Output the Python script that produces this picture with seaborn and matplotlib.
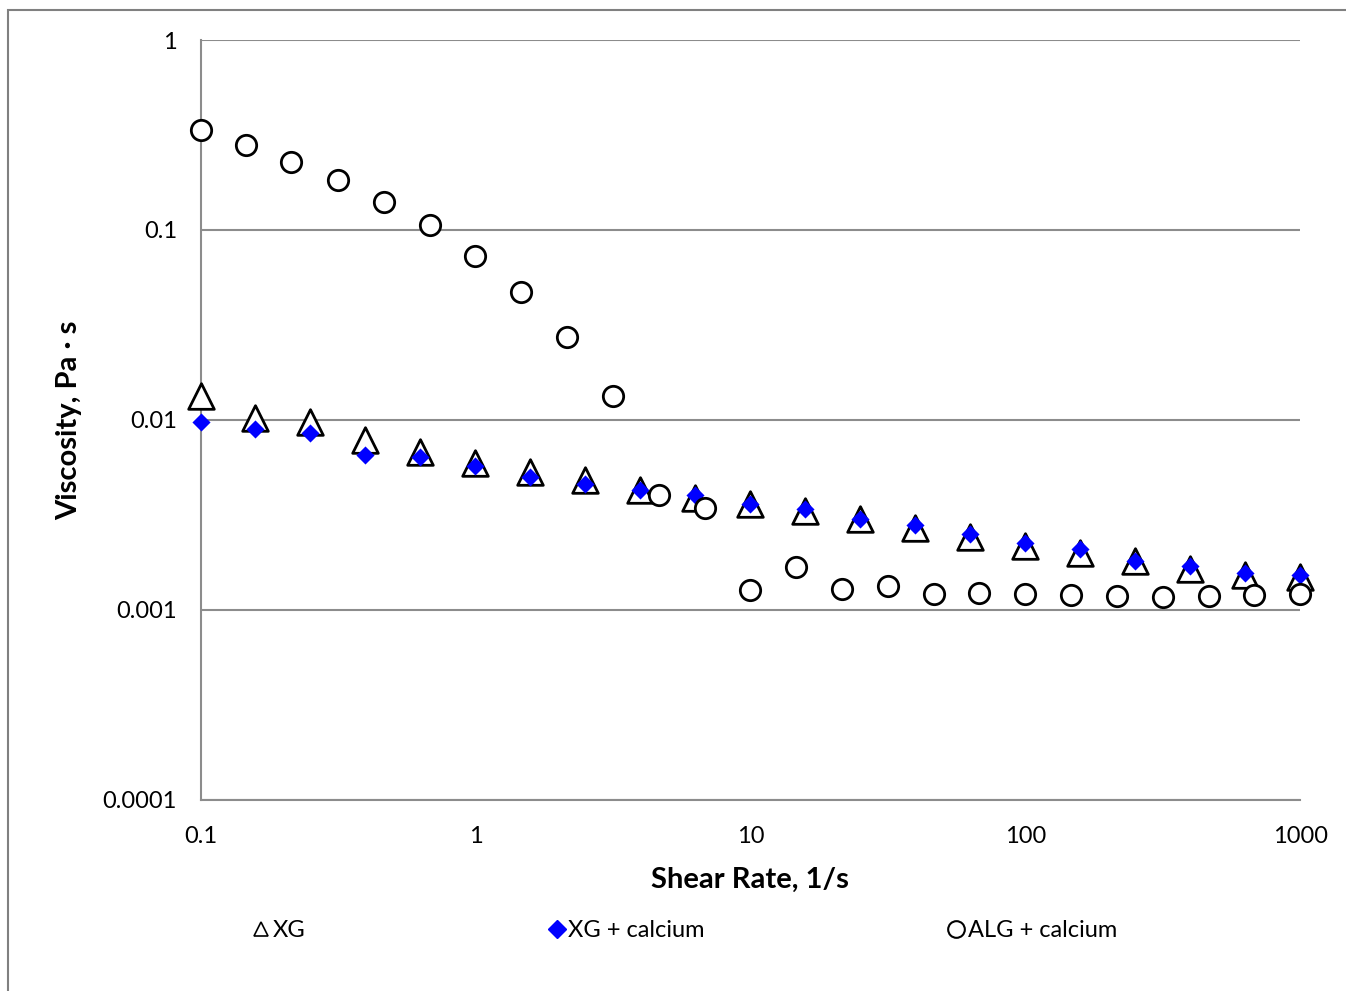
import matplotlib
matplotlib.use('Agg')
import matplotlib.pyplot as plt
import matplotlib.patches as mpatches
from matplotlib.lines import Line2D
import numpy as np
import pandas as pd
import seaborn as sns

# Shear rates (1/s)
rateXG = [0.1, 0.158, 0.251, 0.398, 0.631, 1, 1.58, 2.51, 3.98, 6.31, 10,
          15.8, 25.1, 39.8, 63.1, 100, 158, 251, 398, 631, 1000]
rateALG = [0.1, 0.146, 0.214, 0.315, 0.464, 0.681, 1, 1.46, 2.15, 3.16, 4.64, 6.81,
           10, 14.7, 21.5, 31.6, 46.4, 68.1, 100, 147, 215, 316, 464, 681, 1000]

# Viscosity (Pa s)
viscXG = [0.0134, 0.0102, 0.0097, 0.0078, 0.0068, 0.0059, 0.0053, 0.0048, 0.0043, 0.0039, 0.0036,
          0.0033, 0.0030, 0.0027, 0.00242, 0.00218, 0.00198, 0.00181, 0.00164, 0.00153, 0.00149]
viscXGCa = [0.0098, 0.0090, 0.0085, 0.0065, 0.0064, 0.0057, 0.0050, 0.0046, 0.0043, 0.0040, 0.0036,
            0.0034, 0.0030, 0.0028, 0.0025, 0.00225, 0.0021, 0.0018, 0.0017, 0.00156, 0.00152]
viscALGCa = [0.336, 0.28, 0.228, 0.183, 0.140, 0.106, 0.073, 0.047, 0.0273, 0.0134, 0.00403, 0.00344,
             0.00127, 0.00168, 0.00129, 0.00134, 0.00121, 0.00123, 0.00121, 0.00119, 0.00118,
             0.00117, 0.00118, 0.00119, 0.00121]

yTicks = [0.0001, 0.001, 0.01, 0.1, 1]
yTickLabels = ['0.0001', '0.001', '0.01', '0.1', '1']
xTicks = [0.1, 1, 10, 100, 1000]
xTickLabels = ['0.1', '1', '10', '100', '1000']

sns.set_style('white')
plt.rcParams['font.family'] = ['Lato', 'DejaVu Sans']
plt.rcParams['text.color'] = 'black'
plt.rcParams['axes.labelcolor'] = 'black'

fig = plt.figure(figsize=(13.46, 9.91), dpi=100)
ax = fig.add_axes([0.149, 0.193, 0.817, 0.7666])

xgDf = pd.DataFrame({'rate': rateXG, 'xg': viscXG, 'xgca': viscXGCa})
algDf = pd.DataFrame({'rate': rateALG, 'alg': viscALGCa})

sns.scatterplot(data=xgDf, x='rate', y='xg', marker='^', s=340, facecolor='white',
                edgecolor='black', linewidth=2, ax=ax, zorder=3)
sns.scatterplot(data=xgDf, x='rate', y='xgca', marker='D', s=85, color='#0000ff',
                edgecolor='#0000ff', linewidth=0, ax=ax, zorder=4)
sns.scatterplot(data=algDf, x='rate', y='alg', marker='o', s=215, facecolor='white',
                edgecolor='black', linewidth=2, ax=ax, zorder=5)

ax.set_xscale('log')
ax.set_yscale('log')
ax.set_xlim(0.1, 1000)
ax.set_ylim(0.0001, 1)
ax.set_xticks(xTicks)
ax.set_xticklabels(xTickLabels)
ax.set_yticks(yTicks)
ax.set_yticklabels(yTickLabels)
ax.minorticks_off()

ax.yaxis.grid(True, color='#8c8c8c', linewidth=1.5)
ax.xaxis.grid(False)
for side in ['top', 'right']:
    ax.spines[side].set_visible(False)
for side in ['left', 'bottom']:
    ax.spines[side].set_color('#8c8c8c')
    ax.spines[side].set_linewidth(1.5)
ax.tick_params(axis='both', which='major', direction='out', length=7, width=1.5,
               color='#8c8c8c', labelsize=17, labelcolor='black', pad=10)
ax.tick_params(axis='x', pad=12)
for c in ax.collections:
    c.set_clip_on(False)

ax.set_xlabel('Shear Rate, 1/s', fontsize=21, fontweight='bold', labelpad=14)
ax.set_ylabel('Viscosity, Pa · s', fontsize=21, fontweight='bold', labelpad=15)

# Legend along the bottom
handles = [
    Line2D([], [], linestyle='none', marker='^', markersize=10, markerfacecolor='white',
           markeredgecolor='black', markeredgewidth=1.2),
    Line2D([], [], linestyle='none', marker='D', markersize=9, markerfacecolor='#0000ff',
           markeredgecolor='#0000ff'),
    Line2D([], [], linestyle='none', marker='o', markersize=12, markerfacecolor='white',
           markeredgecolor='black', markeredgewidth=1.5),
]
labels = ['XG', 'XG + calcium', 'ALG + calcium']
fig.legend(handles, labels, loc='center', bbox_to_anchor=(0.508, 0.061), ncol=3,
           frameon=False, fontsize=17, handletextpad=0.05, handlelength=0.9,
           columnspacing=10.2)

# outer chart border
fig.patches.append(mpatches.Rectangle((8 / 1346, -0.01), 1.02, 1 - 10 / 991 + 0.01,
                                      transform=fig.transFigure, fill=False,
                                      edgecolor='#808080', linewidth=1.5))

fig.savefig('out.png', dpi=100)
